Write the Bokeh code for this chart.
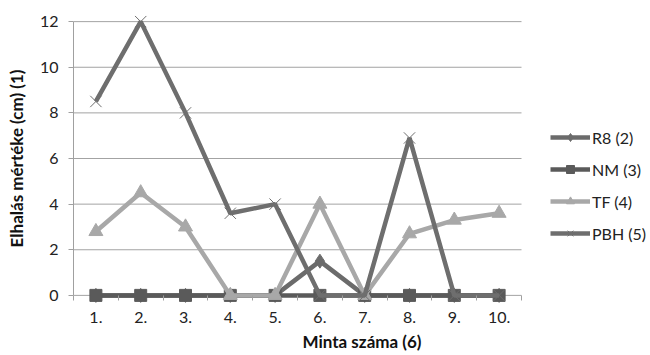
from bokeh.plotting import figure
from bokeh.models import (FixedTicker, Legend, LegendItem, Range1d, ColumnDataSource)
from bokeh.embed import file_html
from bokeh.resources import INLINE

categories = ["1.", "2.", "3.", "4.", "5.", "6.", "7.", "8.", "9.", "10."]
x_pos = [1, 2, 3, 4, 5, 6, 7, 8, 9, 10]
r8 = [0, 0, 0, 0, 0, 1.5, 0, 0, 0, 0]
nm = [0, 0, 0, 0, 0, 0, 0, 0, 0, 0]
tf = [2.8, 4.5, 3.0, 0, 0, 4.0, 0, 2.7, 3.3, 3.6]
pbh = [8.5, 12.0, 8.0, 3.6, 4.0, 0, 0, 6.9, 0, 0]
y_ticks = [0, 2, 4, 6, 8, 10, 12]

FONT = "Lato"
PAD = 0.4  # range padding so markers at 0 and 12 are not clipped
X_LO, X_HI = 0.5, 10.5           # category band edges
X_VIEW_HI = X_LO + 577 / 44.8    # frame extends under the legend

p = figure(width=650, height=355, output_backend="svg", toolbar_location=None,
           x_range=Range1d(X_LO, X_VIEW_HI), y_range=Range1d(-PAD, 12 + PAD),
           min_border_left=73, min_border_right=0, min_border_top=12,
           min_border_bottom=51)
p.outline_line_color = None
p.background_fill_color = "white"
p.border_fill_color = "white"
p.xgrid.grid_line_color = None
p.ygrid.grid_line_color = None

src = ColumnDataSource(dict(x=x_pos, r8=r8, nm=nm, tf=tf, pbh=pbh))

# horizontal gridlines limited to the category area
p.segment(x0=X_LO, x1=X_HI, y0=y_ticks, y1=y_ticks, line_color="#a3a3a3", line_width=1)

l1 = p.line("x", "r8", source=src, line_color="#6b6b6b", line_width=4.5)
m1 = p.scatter("x", "r8", source=src, marker="diamond", size=14, fill_color="#6b6b6b", line_color="#6b6b6b")
l2 = p.line("x", "nm", source=src, line_color="#5a5a5a", line_width=4.5)
m2 = p.scatter("x", "nm", source=src, marker="square", size=12, fill_color="#5a5a5a", line_color="#5a5a5a")
l3 = p.line("x", "tf", source=src, line_color="#a8a8a8", line_width=4.5)
m3 = p.scatter("x", "tf", source=src, marker="triangle", size=14, fill_color="#a8a8a8", line_color="#a8a8a8")
l4 = p.line("x", "pbh", source=src, line_color="#6e6e6e", line_width=4.5)
m4 = p.scatter("x", "pbh", source=src, marker="x", size=16, line_color="#6e6e6e", line_width=1)

# axes
p.xaxis.ticker = FixedTicker(ticks=x_pos, minor_ticks=[i + 0.5 for i in range(0, 11)])
p.xaxis.bounds = (X_LO, X_HI)
p.xaxis.major_label_overrides = {x: c for x, c in zip(x_pos, categories)}
p.xaxis.major_tick_out = 0
p.xaxis.major_tick_in = 0
p.xaxis.minor_tick_out = -4
p.xaxis.minor_tick_in = 9
p.xaxis.minor_tick_line_color = "#a0a0a0"
p.xaxis.axis_line_color = None
p.xaxis.major_label_standoff = 7
p.xaxis.axis_label = "Minta száma (6)"
p.xaxis.axis_label_standoff = 5

p.yaxis.ticker = FixedTicker(ticks=y_ticks, minor_ticks=[])
p.yaxis.bounds = (0, 12)
p.yaxis.major_tick_out = 5
p.yaxis.major_tick_in = 0
p.yaxis.major_tick_line_color = "#a0a0a0"
p.yaxis.axis_line_color = "#a0a0a0"
p.yaxis.major_label_standoff = 10
p.yaxis.axis_label = "Elhalás mértéke (cm) (1)"
p.yaxis.axis_label_standoff = 10

for ax in (p.xaxis[0], p.yaxis[0]):
    ax.major_label_text_font = FONT
    ax.major_label_text_font_size = "16px"
    ax.major_label_text_color = "#222222"
    ax.axis_label_text_font = FONT
    ax.axis_label_text_font_size = "17px"
    ax.axis_label_text_font_style = "bold"
    ax.axis_label_text_color = "#111111"

legend = Legend(items=[
    LegendItem(label="R8 (2)", renderers=[l1, m1]),
    LegendItem(label="NM (3)", renderers=[l2, m2]),
    LegendItem(label="TF (4)", renderers=[l3, m3]),
    LegendItem(label="PBH (5)", renderers=[l4, m4]),
], location=(477, 61))
legend.border_line_color = None
legend.background_fill_alpha = 0
legend.label_text_font = FONT
legend.label_text_font_size = "16px"
legend.label_text_color = "#222222"
legend.glyph_width = 40
legend.glyph_height = 20
legend.label_height = 20
legend.spacing = 12
legend.label_standoff = 2
legend.padding = 0
legend.margin = 0
p.add_layout(legend, "center")

open("out.html", "w").write(file_html(p, INLINE))
